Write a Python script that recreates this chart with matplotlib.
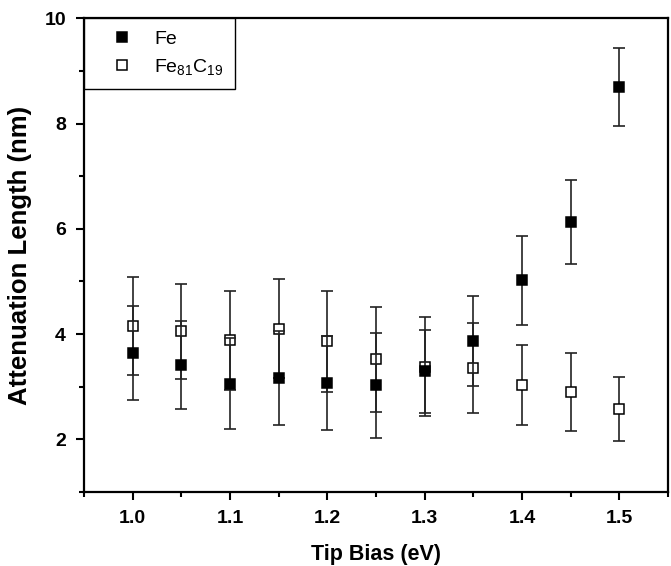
import numpy as np
import matplotlib
matplotlib.use("Agg")
import matplotlib.pyplot as plt
from matplotlib.ticker import MultipleLocator

plt.rcParams["font.family"] = ["Liberation Sans", "DejaVu Sans"]
plt.rcParams["mathtext.default"] = "regular"

# tip bias (eV)
bias = [1.0, 1.05, 1.1, 1.15, 1.2, 1.25, 1.3, 1.35, 1.4, 1.45, 1.5]

# attenuation length (nm)
fe = [3.64, 3.41, 3.06, 3.17, 3.07, 3.03, 3.29, 3.87, 5.02, 6.13, 8.69]
fe_err = [0.90, 0.83, 0.87, 0.89, 0.90, 1.00, 0.78, 0.85, 0.85, 0.80, 0.74]
fec = [4.16, 4.05, 3.88, 4.10, 3.86, 3.52, 3.38, 3.36, 3.03, 2.90, 2.57]
fec_err = [0.93, 0.90, 0.94, 0.94, 0.96, 1.00, 0.94, 0.85, 0.76, 0.75, 0.61]

fig = plt.figure(figsize=(6.71, 5.66), dpi=100)
ax = fig.add_axes([0.1252, 0.1307, 0.8703, 0.837])

ekw = dict(fmt="none", ecolor="#222222", elinewidth=1.2, capsize=4, capthick=1.2)

# open squares first, filled on top
ax.errorbar(bias, fec, yerr=fec_err, zorder=2, **ekw)
h2, = ax.plot(bias, fec, ls="none", marker="s", ms=7.8, mfc="white",
              mec="black", mew=1.1, zorder=3, label="Fe$_{81}$C$_{19}$")
ax.errorbar(bias, fe, yerr=fe_err, zorder=4, **ekw)
h1, = ax.plot(bias, fe, ls="none", marker="s", ms=7.8, mfc="black",
              mec="black", mew=1.1, zorder=5, label="Fe")

ax.set_xlim(0.95, 1.55)
ax.set_ylim(1, 10)
ax.xaxis.set_major_locator(MultipleLocator(0.1))
ax.xaxis.set_minor_locator(MultipleLocator(0.05))
ax.yaxis.set_major_locator(MultipleLocator(2))
ax.yaxis.set_minor_locator(MultipleLocator(1))
ax.xaxis.set_major_formatter(plt.FormatStrFormatter("%.1f"))

for s in ax.spines.values():
    s.set_linewidth(1.6)
ax.tick_params(which="major", direction="out", length=6, width=1.5,
               labelsize=14, pad=7)
ax.tick_params(which="minor", direction="out", length=3.5, width=1.5)
for lbl in ax.get_xticklabels() + ax.get_yticklabels():
    lbl.set_fontweight("bold")

ax.set_xlabel("Tip Bias (eV)", fontsize=15.5, fontweight="bold", labelpad=12)
ax.set_ylabel("Attenuation Length (nm)", fontsize=18.5, fontweight="bold", labelpad=9)

leg = ax.legend(handles=[h1, h2], loc="upper left", borderaxespad=0,
                fontsize=14, fancybox=False, edgecolor="black", framealpha=1,
                handlelength=2.7, handletextpad=0.3, borderpad=0.6,
                labelspacing=0.5, numpoints=1)
leg.get_frame().set_linewidth(1.0)
leg.set_zorder(10)

fig.savefig("out.png", dpi=100)
